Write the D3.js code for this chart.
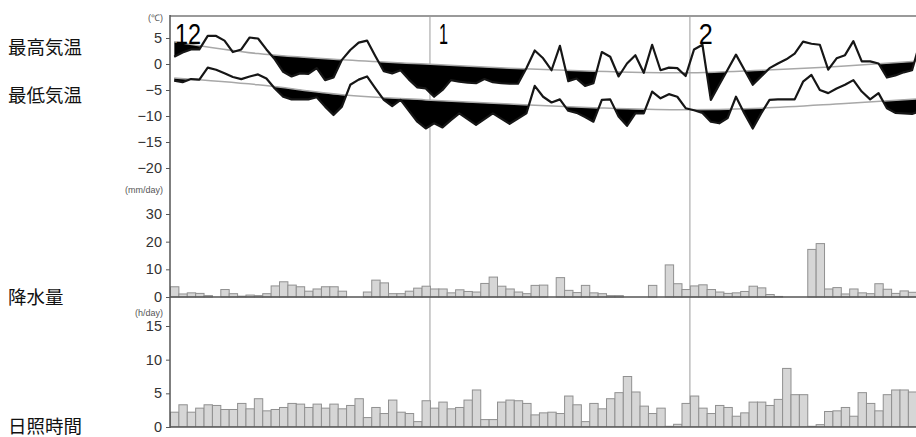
<!DOCTYPE html>
<html>
<head>
<meta charset="utf-8">
<script src="https://cdn.jsdelivr.net/npm/d3@7"></script>
<style>
  body { margin: 0; background: #fff; }
  svg { display: block; }
</style>
</head>
<body>
<svg id="chart" width="916" height="437"></svg>
<script>
// daily values, Dec 1 .. Feb 28
const maxTemp = [
  1.4, 2.2, 2.8, 2.8, 5.4, 5.4, 4.5, 2.3, 2.8, 5.1,
  4.9, 2.8, 0.9, -1.5, -2.4, -1.8, -1.9, -0.8, -3.1, -2.6,
  0.8, 2.7, 4.1, 4.5, 1.5, -1.4, -1.8, -1.2, -3.0, -4.5,
  -4.7, -6.3, -5.0, -3.1, -3.4, -3.6, -3.7, -2.9, -3.5, -3.7,
  -3.8, -3.8, -0.8, 2.6, 1.1, -1.2, 3.5, -3.3, -2.8, -4.2,
  -3.7, 2.3, 1.4, -2.4, 0.1, 1.7, -1.7, 3.7, -1.2, -0.7,
  -0.8, -2.3, 2.8, 3.7, -6.9, -4.0, -1.1, 1.8, -1.1, -4.0,
  -2.4, -0.8, 0.1, 0.9, 2.0, 4.3, 3.9, 3.7, -1.1, 1.1,
  1.7, 4.4, 0.5, 0.5, 0.1, -2.6, -2.2, -1.6, -1.2, 4.5
]
const minTemp = [
  -3.2, -3.5, -2.9, -3.0, -0.7, -1.1, -1.8, -2.5, -2.9, -2.4,
  -2.0, -2.8, -4.7, -6.3, -6.8, -6.8, -6.8, -6.4, -8.2, -9.8,
  -8.2, -4.0, -3.0, -2.4, -4.7, -6.9, -8.1, -6.9, -9.0, -11.1,
  -12.4, -11.4, -12.2, -10.8, -9.5, -10.6, -11.7, -10.6, -9.5, -10.5,
  -11.5, -10.5, -9.5, -4.2, -6.3, -7.4, -6.8, -9.0, -9.4, -10.2,
  -11.1, -6.9, -6.8, -10.1, -11.9, -9.5, -9.5, -5.3, -6.6, -5.8,
  -6.3, -8.5, -8.9, -9.4, -11.1, -11.4, -10.4, -6.3, -9.5, -12.4,
  -9.5, -6.9, -6.8, -6.8, -6.8, -3.4, -2.1, -5.0, -5.6, -4.7,
  -4.0, -3.1, -5.3, -6.8, -5.6, -8.5, -9.4, -9.5, -9.6, -9.0
]
// normals, read at a few days and drawn as a smooth curve
const normalDays = [0, 10, 20, 30, 40, 50, 60, 70, 80, 89]
const normalMax = [4.3, 2.0, 0.8, 0.0, -0.8, -1.4, -1.7, -1.2, -0.4, 0.6]
const normalMin = [-2.7, -4.0, -5.9, -6.9, -7.7, -8.4, -8.8, -8.5, -7.6, -6.7]

const precip = [
  3.7, 1.1, 1.5, 1.3, 0.5, 0, 2.7, 1.2, 0.3, 0.7,
  0.5, 1.2, 4.0, 5.5, 4.3, 3.7, 2.1, 2.9, 3.7, 3.7,
  2.1, 0, 0, 1.8, 6.1, 5.1, 1.2, 1.2, 2.1, 3.2,
  3.9, 2.9, 2.9, 1.5, 2.6, 2.0, 1.8, 4.9, 7.2, 3.9,
  2.9, 1.8, 1.2, 4.2, 4.3, 0, 7.0, 2.4, 1.6, 4.2,
  1.5, 1.2, 0.5, 0.5, 0, 0, 0, 4.2, 0, 11.6,
  4.8, 2.7, 4.0, 4.4, 2.7, 1.8, 1.3, 1.5, 2.0, 3.9,
  3.3, 0.9, 0.2, 0, 0, 0, 17.2, 19.3, 2.9, 3.4,
  1.1, 2.9, 1.5, 1.2, 4.8, 2.8, 1.3, 2.2, 1.7, 1.5
]
const sunshine = [
  2.2, 3.3, 2.2, 2.8, 3.3, 3.2, 2.6, 2.6, 3.5, 2.7,
  4.2, 2.4, 2.6, 2.9, 3.5, 3.4, 2.9, 3.4, 2.8, 3.4,
  2.7, 3.2, 4.2, 1.4, 2.9, 2.0, 4.0, 2.2, 2.0, 0.8,
  3.9, 2.8, 3.7, 2.7, 2.9, 4.0, 5.5, 1.1, 1.1, 3.7,
  4.0, 3.9, 3.5, 1.8, 2.1, 2.2, 2.0, 4.6, 3.3, 0.8,
  3.5, 2.7, 4.2, 5.1, 7.5, 5.2, 3.1, 2.0, 2.8, 0.1,
  0.4, 3.5, 4.6, 2.8, 2.0, 3.2, 2.9, 1.6, 2.1, 3.7,
  3.7, 3.2, 4.1, 8.7, 4.8, 4.8, 0.1, 0.35, 2.3, 2.4,
  2.9, 1.6, 5.1, 3.5, 2.4, 4.8, 5.5, 5.5, 5.2, 5.0
]

const monthLabels = ['12', '1', '2']
const monthStart = [0, 31, 62]

const tempTicks = [5, 0, -5, -10, -15, -20]
const precipTicks = [0, 10, 20, 30]
const sunTicks = [0, 5, 10, 15]

const W = 916, H = 437
const plotLeft = 170
const plotTop = 16
const plotBottom = 427
const dayW = 8.385
const nDays = 90

const svg = d3.select('#chart')
const defs = svg.append('defs')

const x = d3.scaleLinear().domain([0, nDays]).range([plotLeft, plotLeft + nDays * dayW])
const yT = d3.scaleLinear().domain([-20, 5]).range([168, 38])
const yP = d3.scaleLinear().domain([0, 30]).range([297, 214])
const yS = d3.scaleLinear().domain([0, 15]).range([427, 326])

defs.append('clipPath').attr('id', 'plot-clip')
    .append('rect')
    .attr('x', plotLeft).attr('y', plotTop)
    .attr('width', W - plotLeft).attr('height', plotBottom - plotTop)

const plot = svg.append('g').attr('clip-path', 'url(#plot-clip)')

// month separators
plot.append('g')
    .selectAll('line')
    .data(monthStart.filter(d => d > 0))
    .join('line')
    .attr('x1', d => x(d)).attr('x2', d => x(d))
    .attr('y1', plotTop).attr('y2', plotBottom)
    .attr('stroke', '#bdbdbd')
    .attr('stroke-width', 1.5)

// temperature: black fill where below normal
function drawTemp(vals, normals, id) {
    const aboveLine = d3.area()
        .x((d, i) => x(i + 0.5))
        .y0(0)
        .y1(d => yT(d))
    defs.append('clipPath').attr('id', id)
        .append('path').attr('d', aboveLine(vals))

    const belowNormal = d3.area()
        .x((d, i) => x(normalDays[i] + 0.5))
        .y0(d => yT(d))
        .y1(H)
        .curve(d3.curveMonotoneX)
    plot.append('path')
        .attr('d', belowNormal(normals))
        .attr('fill', '#000')
        .attr('clip-path', `url(#${id})`)

    plot.append('path')
        .attr('d', d3.line()
            .x((d, i) => x(normalDays[i] + 0.5))
            .y(d => yT(d))
            .curve(d3.curveMonotoneX)(normals))
        .attr('fill', 'none')
        .attr('stroke', '#a8a8a8')
        .attr('stroke-width', 1.5)

    plot.append('path')
        .attr('d', d3.line()
            .x((d, i) => x(i + 0.5))
            .y(d => yT(d))(vals))
        .attr('fill', 'none')
        .attr('stroke', '#161616')
        .attr('stroke-width', 2.2)
        .attr('stroke-linejoin', 'round')
}
drawTemp(maxTemp, normalMax, 'clip-max')
drawTemp(minTemp, normalMin, 'clip-min')

// bars
function drawBars(vals, y) {
    plot.append('g')
        .selectAll('rect')
        .data(vals.map((v, i) => ({ v, i })).filter(d => d.v > 0))
        .join('rect')
        .attr('x', d => x(d.i) + 0.5)
        .attr('width', dayW)
        .attr('y', d => y(d.v))
        .attr('height', d => y(0) - y(d.v))
        .attr('fill', '#d6d6d6')
        .attr('stroke', '#909090')
        .attr('stroke-width', 1)
}
drawBars(precip, yP)
drawBars(sunshine, yS)

// frame and baselines
svg.append('line')
    .attr('x1', plotLeft).attr('x2', W).attr('y1', plotTop).attr('y2', plotTop)
    .attr('stroke', '#9a9a9a').attr('stroke-width', 2)
svg.append('line')
    .attr('x1', plotLeft).attr('x2', W).attr('y1', yP(0)).attr('y2', yP(0))
    .attr('stroke', '#555').attr('stroke-width', 1.5)
svg.append('line')
    .attr('x1', plotLeft).attr('x2', W).attr('y1', yS(0)).attr('y2', yS(0))
    .attr('stroke', '#555').attr('stroke-width', 1.5)
svg.append('line')
    .attr('x1', plotLeft).attr('x2', plotLeft).attr('y1', plotTop - 1).attr('y2', plotBottom + 1)
    .attr('stroke', '#555').attr('stroke-width', 1.5)

// axes
function drawAxis(y, ticks) {
    const g = svg.append('g')
        .attr('transform', `translate(${plotLeft},0)`)
        .call(d3.axisLeft(y).tickValues(ticks).tickSize(4).tickPadding(4))
    g.select('.domain').remove()
    g.selectAll('.tick line').attr('stroke', '#555')
    g.selectAll('.tick text')
        .attr('font-family', '"Liberation Sans", Arial, sans-serif')
        .attr('font-size', 14.5)
        .attr('fill', '#333')
}
drawAxis(yT, tempTicks)
drawAxis(yP, precipTicks)
drawAxis(yS, sunTicks)

// units
const units = [
    { text: '(℃)', y: 18 },
    { text: '(mm/day)', y: 190 },
    { text: '(h/day)', y: 313 }
]
svg.append('g')
    .selectAll('text')
    .data(units)
    .join('text')
    .attr('x', 163)
    .attr('y', d => d.y)
    .attr('text-anchor', 'end')
    .attr('dominant-baseline', 'central')
    .attr('font-family', '"Liberation Sans", Arial, sans-serif')
    .attr('font-size', 9)
    .attr('fill', '#555')
    .text(d => d.text)

// month labels, narrow as in the original
const monthWidths = [26, 9, 14]
svg.append('g')
    .selectAll('text')
    .data(monthLabels)
    .join('text')
    .attr('x', (d, i) => x(monthStart[i]) + (i === 0 ? 5 : 9))
    .attr('y', 44)
    .attr('font-family', '"Liberation Sans", Arial, sans-serif')
    .attr('font-size', 30)
    .attr('textLength', (d, i) => monthWidths[i])
    .attr('lengthAdjust', 'spacingAndGlyphs')
    .attr('fill', '#000')
    .text(d => d)

// row labels
const rowLabels = [
    { text: '最高気温', y: 46 },
    { text: '最低気温', y: 94 },
    { text: '降水量', y: 296 },
    { text: '日照時間', y: 425 }
]
svg.append('g')
    .selectAll('text')
    .data(rowLabels)
    .join('text')
    .attr('x', 8)
    .attr('y', d => d.y)
    .attr('dominant-baseline', 'central')
    .attr('font-family', '"Noto Sans CJK JP", sans-serif')
    .attr('font-size', 18.5)
    .attr('fill', '#111')
    .text(d => d.text)
</script>
</body>
</html>
